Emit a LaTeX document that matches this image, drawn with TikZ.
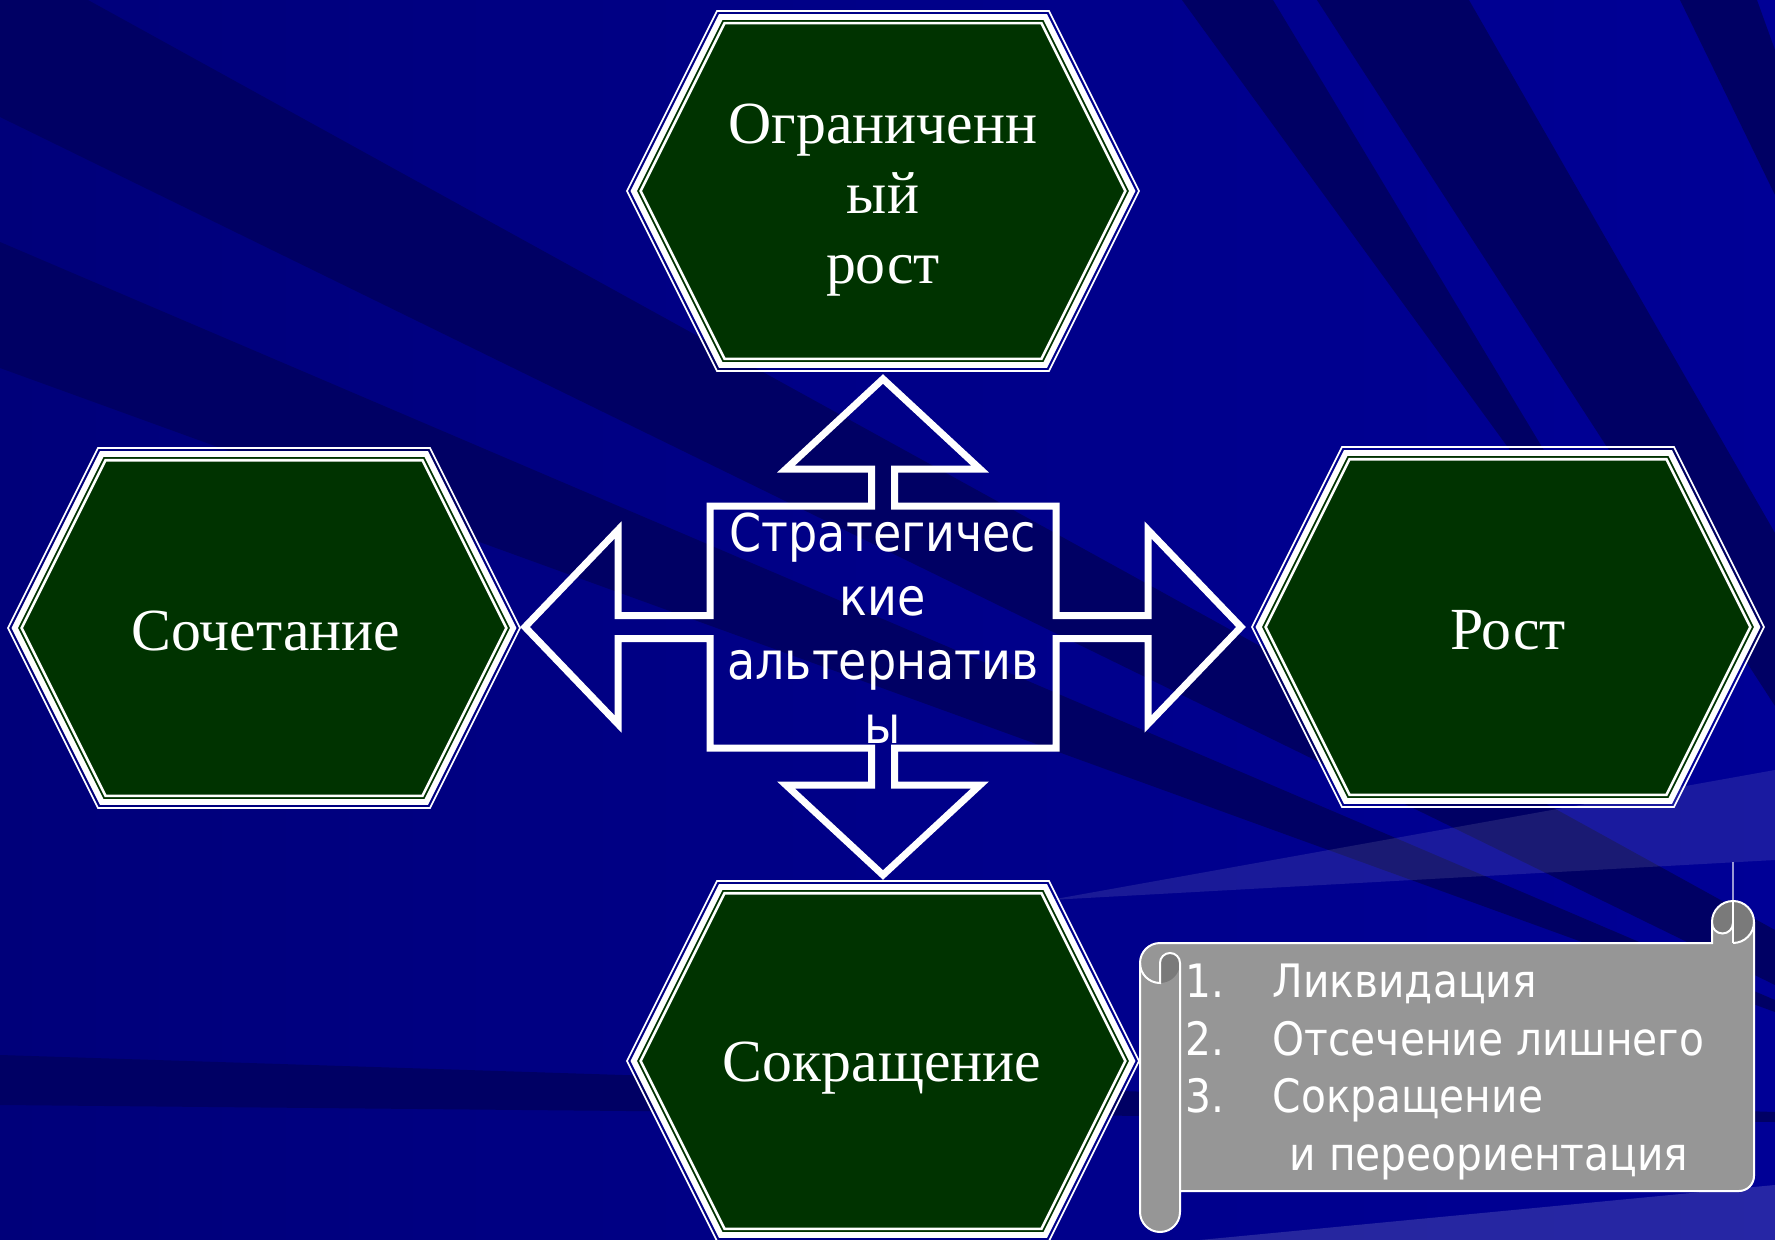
\documentclass[tikz,border=0pt]{standalone}
\usepackage{fontspec}
\setmainfont{Liberation Serif}
\newfontfamily\tahoma[FakeStretch=0.885]{DejaVu Sans}
\definecolor{bgleft}{RGB}{0, 0, 122}
\definecolor{bgright}{RGB}{0, 0, 150}
\definecolor{bgdark}{RGB}{0, 0, 100}
\definecolor{hexgreen}{RGB}{0, 51, 0}
\definecolor{scrollgray}{RGB}{150, 150, 150}
\definecolor{scrolldark}{RGB}{122, 122, 122}

% hexagon round (#1,#2), drawn #3 px inside the outer line
\newcommand{\hexat}[3]{({#1-256+1.118*#3},{#2}) -- ({#1-166+0.618*#3},{#2-180+#3})
  -- ({#1+166-0.618*#3},{#2-180+#3}) -- ({#1+256-1.118*#3},{#2})
  -- ({#1+166-0.618*#3},{#2+180-#3}) -- ({#1-166+0.618*#3},{#2+180-#3}) -- cycle}
\newcommand{\hexframe}[2]{%
  \draw[hexthin] \hexat{#1}{#2}{0};
  \draw[hexthick] \hexat{#1}{#2}{6};
  \draw[hexinner] \hexat{#1}{#2}{12.2};}
% outline of the scroll
\newcommand{\scrollbody}{(1140,963) arc (180:270:20) -- (1712,943) -- (1712,922)
  arc (180:360:21) -- (1754,1176) arc (0:90:15) -- (1180,1191) -- (1180,1212)
  arc (0:180:20) -- cycle}

\begin{document}
\begin{tikzpicture}[x=0.1mm, y=-0.1mm,
    hexthin/.style={draw=white, line width=0.17mm},
    hexthick/.style={draw=white, fill=hexgreen, line width=0.57mm},
    hexinner/.style={draw=white, line width=0.26mm},
    hextext/.style={text=white, inner sep=0pt, align=center,
      font=\fontsize{17pt}{19.9pt}\selectfont},
    crossline/.style={draw=white, line width=0.7mm, line join=miter},
    crosstext/.style={text=white, inner sep=0pt, align=center,
      font=\tahoma\fontsize{14.8pt}{18.2pt}\selectfont},
    itemtext/.style={text=white, inner sep=0pt, anchor=base west,
      font=\tahoma\fontsize{13.1pt}{16.4pt}\selectfont},
    scrollline/.style={draw=white, line width=0.2mm}]
  \useasboundingbox (0,0) rectangle (1775,1240);

  % background with streaks
  \shade[left color=bgleft, right color=bgright] (0,0) rectangle (1775,1240);
  \fill[bgdark] (0,0) -- (88,0) -- (1775,930) -- (1775,985) -- (0,117) -- cycle;
  \fill[bgdark] (0,242) -- (1775,1000) -- (1775,1012) -- (0,368) -- cycle;
  \fill[bgdark] (0,1055) -- (1775,1112) -- (1775,1122) -- (0,1105) -- cycle;
  \fill[bgdark] (1317,0) -- (1469,0) -- (1775,533) -- (1775,706) -- cycle;
  \fill[bgdark] (1182,0) -- (1273,0) -- (1610,560) -- (1590,560) -- cycle;
  \fill[bgdark] (1680,0) -- (1757,0) -- (1775,50) -- (1775,195) -- cycle;
  \fill[white, opacity=0.1] (1050,900) -- (1775,770) -- (1775,860) -- cycle;
  \fill[white, opacity=0.15] (1200,1240) -- (1775,1185) -- (1775,1240) -- cycle;

  % hexagons
  \hexframe{883}{191}
  \hexframe{264}{628}
  \hexframe{1508}{627}
  \hexframe{883}{1061}
  \node[hextext] (ogr) at (883,200) {Ограниченн\\ый\\рост};
  \node[hextext, anchor=base] (soch) at (266,650) {Сочетание};
  \node[hextext, anchor=base] (rost) at (1508,649) {Рост};
  \node[hextext, anchor=base] (sokr) at (882,1081) {Сокращение};

  % cross of four arrows
  \begin{scope}[shift={(883,627)}]
    \draw[crossline] (0,-248) -- (97,-158) -- (11.5,-158) -- (11.5,-121)
      -- (173,-121) -- (173,-11.5) -- (265,-11.5) -- (265,-97) -- (358,0)
      -- (265,97) -- (265,11.5) -- (173,11.5) -- (173,121) -- (11.5,121)
      -- (11.5,158) -- (97,158) -- (0,248) -- (-97,158) -- (-11.5,158)
      -- (-11.5,121) -- (-173,121) -- (-173,11.5) -- (-265,11.5) -- (-265,97)
      -- (-358,0) -- (-265,-97) -- (-265,-11.5) -- (-173,-11.5) -- (-173,-121)
      -- (-11.5,-121) -- (-11.5,-158) -- (-97,-158) -- cycle;
  \end{scope}
  \node[crosstext] (strat) at (883,628) {Стратегичес\\кие\\альтернатив\\ы};

  % scroll
  \fill[scrollgray] \scrollbody;
  \fill[scrolldark] (1160,983) -- (1160,963) arc (180:360:10) arc (0:90:20) -- cycle;
  \fill[scrolldark] (1733,922) circle (21);
  \fill[scrollgray] (1712,923) arc (180:0:10.5) -- (1733,943) -- (1712,943) -- cycle;
  \draw[scrollline] \scrollbody;
  \draw[scrollline] (1140,963) arc (180:90:20) -- (1160,963) arc (180:360:10) -- (1180,1191);
  \draw[scrollline] (1712,923) arc (180:0:10.5);
  \draw[scrollline] (1754,922) arc (0:90:21);
  \draw[scrollline] (1733,901) -- (1733,943);
  \draw[white, opacity=0.6, line width=0.12mm] (1733,862) -- (1733,901);
  \node[itemtext] (n1) at (1185,997) {1.};
  \node[itemtext] (it1) at (1272,997) {Ликвидация};
  \node[itemtext] (n2) at (1185,1055) {2.};
  \node[itemtext] (it2) at (1272,1055) {Отсечение лишнего};
  \node[itemtext] (n3) at (1185,1112) {3.};
  \node[itemtext] (it3) at (1272,1112) {Сокращение};
  \node[itemtext] (it3b) at (1289,1170) {и переориентация};
\end{tikzpicture}
\end{document}
